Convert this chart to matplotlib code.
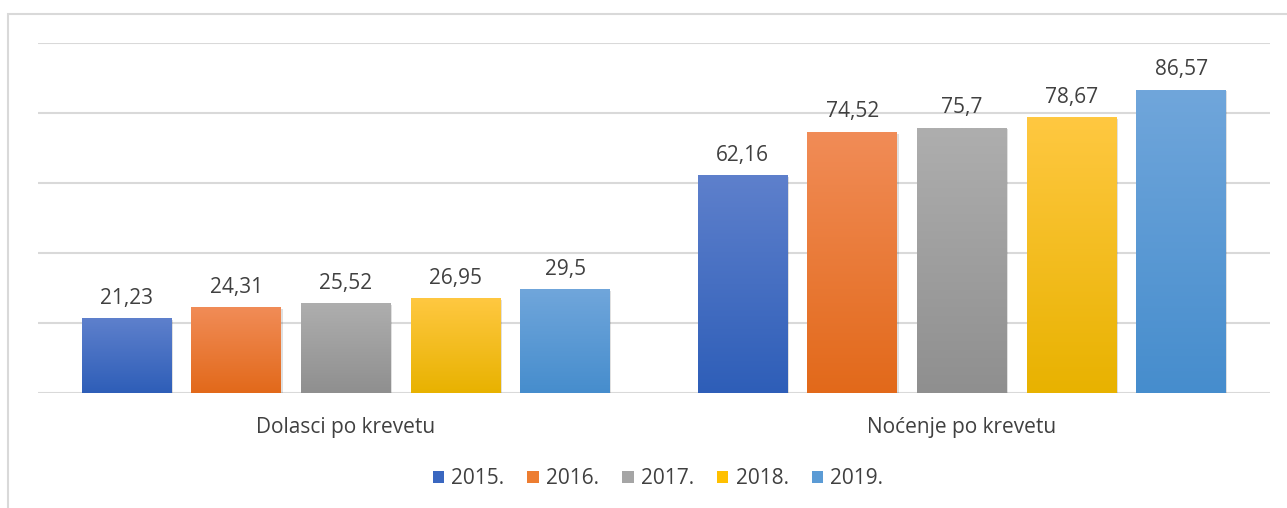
import numpy as np
import matplotlib.pyplot as plt
from matplotlib.colors import LinearSegmentedColormap
from matplotlib.patches import Rectangle, Patch

categories = ['Dolasci po krevetu', 'Noćenje po krevetu']
years = ['2015.', '2016.', '2017.', '2018.', '2019.']
values = {
    '2015.': [21.23, 62.16],
    '2016.': [24.31, 74.52],
    '2017.': [25.52, 75.7],
    '2018.': [26.95, 78.67],
    '2019.': [29.5, 86.57],
}
labels = {
    '2015.': ['21,23', '62,16'],
    '2016.': ['24,31', '74,52'],
    '2017.': ['25,52', '75,7'],
    '2018.': ['26,95', '78,67'],
    '2019.': ['29,5', '86,57'],
}
# (top, bottom) gradient colours
grad = {
    '2015.': ('#5E80CC', '#2E5EB8'),
    '2016.': ('#F18C57', '#E2691A'),
    '2017.': ('#AEAEAE', '#8F8F8F'),
    '2018.': ('#FFC841', '#E8B200'),
    '2019.': ('#70A6DB', '#468DCD'),
}
legend_cols = ['#3A67C0', '#ED7D31', '#A5A5A5', '#FFC000', '#5B9BD5']

plt.rcParams['font.family'] = ['Open Sans', 'DejaVu Sans']
txt_col = '#404040'
fs = 15

fig = plt.figure(figsize=(12.87, 5.08), dpi=100)
ax = fig.add_axes([38/1287, 1-393/508, (1270-38)/1287, 350/508])

# outer chart border
fig.patches.append(Rectangle((8/1287, -0.1), 1.2, 1-14/508+0.1, transform=fig.transFigure,
                             fill=False, edgecolor='#D9D9D9', linewidth=1.5))

x = np.arange(len(categories))
width = 0.146
step = 0.178
ramp = np.linspace(0, 1, 256).reshape(-1, 1)

for i, yr in enumerate(years):
    off = (i - 2) * step
    cmap = LinearSegmentedColormap.from_list(yr, [grad[yr][1], grad[yr][0]])
    for j, v in enumerate(values[yr]):
        x0 = x[j] + off - width/2
        # soft shadow
        ax.add_patch(Rectangle((x0 + 0.002, -0.4), width, v, facecolor='#000000',
                               alpha=0.12, linewidth=0, zorder=2))
        ax.imshow(ramp, extent=(x0, x0 + width, 0, v), origin='lower', cmap=cmap,
                  aspect='auto', zorder=3, interpolation='bilinear')
        ax.annotate(labels[yr][j], (x[j] + off, v), xytext=(0, 7), textcoords='offset points',
                    ha='center', va='bottom', fontsize=fs, color=txt_col)

ax.set_xlim(-0.5, 1.5)
ax.set_ylim(0, 100)
ax.set_yticks(np.arange(0, 101, 20))
ax.yaxis.grid(True, color='#D9D9D9', linewidth=1.5)
ax.set_axisbelow(True)
ax.tick_params(axis='y', left=False, labelleft=False)
ax.set_xticks(x)
ax.set_xticklabels(categories, fontsize=fs, color=txt_col)
ax.tick_params(axis='x', length=0, pad=17)
for s in ax.spines.values():
    s.set_visible(False)

handles = [Patch(facecolor=c, edgecolor='none') for c in legend_cols]
leg = fig.legend(handles, years, loc='center', bbox_to_anchor=(658/1287, 1-479/508), ncol=5,
                 frameon=False, fontsize=fs, handlelength=0.55, handleheight=0.55,
                 handletextpad=0.35, columnspacing=1.1)
for t in leg.get_texts():
    t.set_color(txt_col)

fig.savefig('out.png', dpi=100)
